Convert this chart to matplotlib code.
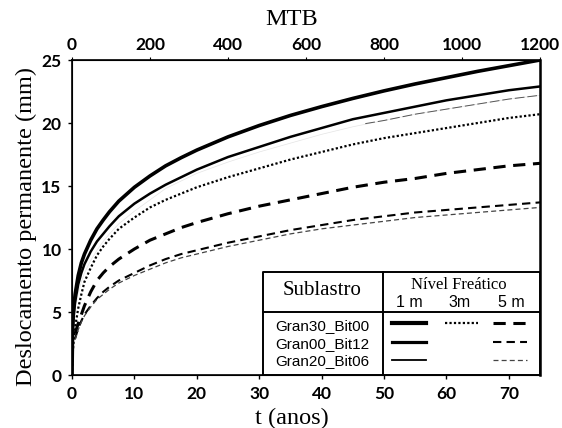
import matplotlib
matplotlib.use("Agg")
import matplotlib.pyplot as plt
import numpy as np

# ---------------- data ----------------
t = [0, 0.1, 0.25, 0.5, 1, 1.5, 2, 3, 4, 5, 6, 7.5, 10, 12.5, 15, 17.5, 20,
     25, 30, 35, 40, 45, 50, 55, 60, 65, 70, 75]
g30_1m = [0, 3.8, 5.2, 6.4, 7.9, 8.9, 9.6, 10.7, 11.6, 12.3, 12.95, 13.8, 14.9, 15.8, 16.6, 17.25, 17.85,
          18.9, 19.8, 20.6, 21.3, 21.95, 22.55, 23.1, 23.6, 24.1, 24.55, 25.0]
g00_1m = [0, 3.4, 4.6, 5.8, 7.2, 8.1, 8.8, 9.8, 10.6, 11.2, 11.8, 12.6, 13.6, 14.4, 15.1, 15.7, 16.3,
          17.3, 18.1, 18.9, 19.6, 20.3, 20.8, 21.3, 21.8, 22.2, 22.6, 22.9]
g20_1m = [0, 3.0, 4.1, 5.2, 6.5, 7.4, 8.1, 9.1, 9.9, 10.6, 11.2, 12.0, 13.0, 13.9, 14.8, 15.4, 16.0,
          16.9, 17.7, 18.4, 19.1, 19.7, 20.2, 20.7, 21.1, 21.5, 21.9, 22.2]
g30_3m = [0, 1.6, 2.6, 3.8, 5.3, 6.4, 7.4, 8.5, 9.5, 10.2, 10.8, 11.6, 12.5, 13.3, 13.9, 14.4, 14.9,
          15.7, 16.4, 17.1, 17.7, 18.3, 18.8, 19.2, 19.6, 20.0, 20.4, 20.7]
t5 = [0.5, 0.75, 1, 1.5, 2, 3, 4, 5, 6, 7.5, 10, 12.5, 15, 17.5, 20,
      25, 30, 35, 40, 45, 50, 55, 60, 65, 70, 75]
g30_5m = [3.3, 3.7, 4.1, 4.8, 5.5, 6.6, 7.5, 8.1, 8.6, 9.2, 10.0, 10.7, 11.2, 11.7, 12.1,
          12.8, 13.4, 13.9, 14.4, 14.9, 15.3, 15.6, 16.0, 16.3, 16.6, 16.8]
g00_5m = [2.9, 3.3, 3.7, 4.3, 4.8, 5.5, 6.1, 6.6, 7.0, 7.5, 8.1, 8.7, 9.2, 9.6, 9.9,
          10.5, 11.0, 11.5, 11.9, 12.3, 12.6, 12.9, 13.1, 13.3, 13.5, 13.7]
g20_5m = [2.8, 3.2, 3.6, 4.2, 4.7, 5.4, 6.0, 6.4, 6.8, 7.3, 7.9, 8.4, 8.9, 9.3, 9.6,
          10.2, 10.7, 11.2, 11.6, 11.9, 12.2, 12.5, 12.7, 12.9, 13.1, 13.3]

rows = ["Gran30_Bit00", "Gran00_Bit12", "Gran20_Bit06"]
cols = ["1 m", "3m", "5 m"]
mtb_ticks = [0, 200, 400, 600, 800, 1000, 1200]
t_ticks = [0, 10, 20, 30, 40, 50, 60, 70]
y_ticks = [0, 5, 10, 15, 20, 25]

# ---------------- styles ----------------
st = {
    "g30_1m": dict(color="black", lw=2.6, ls="-"),
    "g00_1m": dict(color="black", lw=1.8, ls="-"),
    "g20_1m": dict(color="#555555", lw=0.7, ls=(0, (10, 3))),
    "g30_3m": dict(color="black", lw=1.6, ls=(0, (1, 1))),
    "g30_5m": dict(color="black", lw=2.2, ls=(0, (4, 2.5))),
    "g00_5m": dict(color="black", lw=1.5, ls=(0, (4, 2.5))),
    "g20_5m": dict(color="#444444", lw=0.9, ls=(0, (4, 2.5))),
}

serif = "Liberation Serif"
tickfont = "Lato"
sans = "Liberation Sans"

fig = plt.figure(figsize=(5.62, 4.28), dpi=100)
ax = fig.add_axes([0.1281, 0.1238, 0.8328, 0.736])

ta = np.array(t)
g20 = np.array(g20_1m)
mask = ta >= 47
ax.plot(t, g20_1m, color="#e4e4e4", lw=0.5)
ax.plot(np.r_[47, ta[mask]], np.r_[19.95, g20[mask]], **st["g20_1m"])
ax.plot(t, g00_1m, **st["g00_1m"])
ax.plot(t, g30_1m, **st["g30_1m"])
ax.plot(t, g30_3m, **st["g30_3m"])
ax.plot(t5, g30_5m, **st["g30_5m"])
ax.plot(t5, g00_5m, **st["g00_5m"])
ax.plot(t5, g20_5m, **st["g20_5m"])

ax.set_xlim(0, 75)
ax.set_ylim(0, 25)
ax.set_xticks(t_ticks)
ax.set_yticks(y_ticks)
ax.tick_params(axis="both", labelsize=12.5, length=3, width=1, direction="out")
ax.tick_params(axis="x", pad=5)
ax.tick_params(axis="y", pad=4.5)
for lab in ax.get_xticklabels() + ax.get_yticklabels():
    lab.set_fontfamily(tickfont)
    lab.set_fontweight("bold")
ax.set_xlabel("t (anos)", fontfamily=serif, fontsize=17.5)
ax.xaxis.label.set_va("center")
ax.xaxis.set_label_coords(0.47, -0.137)
ax.set_ylabel("Deslocamento permanente (mm)", fontfamily=serif, fontsize=17.5)
ax.yaxis.label.set_va("center")
ax.yaxis.set_label_coords(-0.098, 0.473)
for s in ["left", "bottom", "top"]:
    ax.spines[s].set_linewidth(1.2)
ax.spines["right"].set_linewidth(1.8)

ax2 = ax.twiny()
ax2.set_xlim(0, 1200)
ax2.set_xticks(mtb_ticks)
ax2.tick_params(axis="x", labelsize=12.5, length=2.5, direction="out", pad=2.5)
for lab in ax2.get_xticklabels():
    lab.set_fontfamily(tickfont)
    lab.set_fontweight("bold")
ax2.set_xlabel("MTB", fontfamily=serif, fontsize=17.5)
ax2.xaxis.label.set_va("center")
ax2.xaxis.set_label_coords(0.47, 1.130)

# ---------------- table legend ----------------
T = ax.transAxes
x0, x1, xd = 0.408, 1.0, 0.665
y0, y1, yd = 0.0, 0.327, 0.2
lwb = 1.4
ax.fill([x0, x1, x1, x0], [y0, y0, y1, y1], transform=T, color="white", zorder=4)
ax.plot([x0, x1, x1, x0, x0], [y0, y0, y1, y1, y0], transform=T, color="black", lw=lwb, clip_on=False, zorder=5)
ax.plot([xd, xd], [y0, y1], transform=T, color="black", lw=lwb, zorder=5)
ax.plot([x0, x1], [yd, yd], transform=T, color="black", lw=lwb, zorder=5)

ax.text(0.535, 0.268, "Sublastro", transform=T, ha="center", va="center", fontfamily=serif, fontsize=15, zorder=6)
ax.text(0.827, 0.285, "Nível Freático", transform=T, ha="center", va="center", fontfamily=serif, fontsize=12, zorder=6)
for xc, c in zip([0.721, 0.827, 0.938], cols):
    ax.text(xc, 0.230, c, transform=T, ha="center", va="center", fontfamily=sans, fontsize=11.5, zorder=6)
row_y = [0.156, 0.098, 0.044]
for yr, r in zip(row_y, rows):
    ax.text(0.535, yr, r, transform=T, ha="center", va="center", fontfamily=sans, fontsize=11, zorder=6)

c1 = [0.684, 0.756]
c3 = [0.797, 0.868]
c5 = [0.900, 0.972]
ly = [0.165, 0.105, 0.048]
samples = [
    (c1, ly[0], "g30_1m"), (c3, ly[0], "g30_3m"), (c5, ly[0], "g30_5m"),
    (c1, ly[1], "g00_1m"), (c5, ly[1], "g00_5m"),
    (c1, ly[2], "g20_1m"), (c5, ly[2], "g20_5m"),
]
for xs, yr, key in samples:
    s = dict(st[key])
    if key == "g20_1m":
        s = dict(color="black", lw=1.3, ls="-")
    if key == "g30_1m":
        s["lw"] = 3.0
    if key == "g00_1m":
        s["lw"] = 2.3
    ax.plot(xs, [yr, yr], transform=T, zorder=6, **s)

fig.savefig("out.png", dpi=100)
